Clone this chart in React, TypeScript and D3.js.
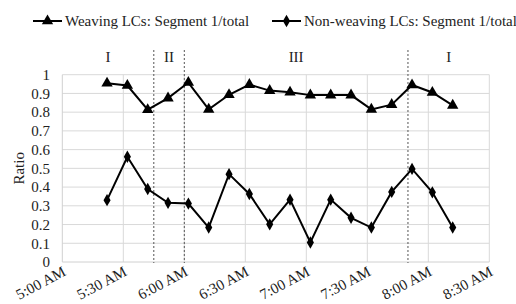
import React, { useEffect, useRef } from 'react';
import * as d3 from 'd3';

// sample times (10 min steps)
const times = ['5:22', '5:32', '5:42', '5:52', '6:02', '6:12', '6:22', '6:32', '6:42', '6:52', '7:02', '7:12', '7:22', '7:32', '7:42', '7:52', '8:02', '8:12'];
const weaving = [0.954, 0.942, 0.813, 0.875, 0.958, 0.815, 0.893, 0.947, 0.915, 0.906, 0.891, 0.891, 0.891, 0.815, 0.84, 0.945, 0.905, 0.836];
const nonWeaving = [0.33, 0.562, 0.39, 0.316, 0.312, 0.184, 0.469, 0.363, 0.201, 0.333, 0.104, 0.333, 0.236, 0.184, 0.374, 0.497, 0.372, 0.184];
const boundaries = ['5:45', '6:00', '7:50'];
const regionLabels = ['I', 'II', 'III', 'I'];
const yTicks = [0, 0.1, 0.2, 0.3, 0.4, 0.5, 0.6, 0.7, 0.8, 0.9, 1];

const toDate = (s: string) => {
  const [h, m] = s.split(':').map(Number);
  return new Date(2000, 0, 1, h, m);
};

export default function App() {
  const ref = useRef<SVGSVGElement>(null);

  useEffect(() => {
    const svg = d3.select(ref.current);
    svg.selectAll('*').remove();
    const fs = 15;

    const x = d3.scaleTime().domain([toDate('5:00'), toDate('8:30')]).range([62.3, 489.3]);
    const y = d3.scaleLinear().domain([0, 1]).range([262, 74.7]);

    // horizontal grid
    svg.append('g')
      .selectAll('line')
      .data(yTicks.slice(1))
      .enter()
      .append('line')
      .attr('x1', x.range()[0])
      .attr('x2', x.range()[1])
      .attr('y1', d => y(d))
      .attr('y2', d => y(d))
      .attr('stroke', '#d9d9d9')
      .attr('stroke-width', 1);

    const xTicks = d3.timeMinute.every(30)!.range(toDate('5:00'), toDate('8:31'));
    // vertical grid
    svg.append('g')
      .selectAll('line')
      .data(xTicks.slice(1))
      .enter()
      .append('line')
      .attr('x1', d => x(d))
      .attr('x2', d => x(d))
      .attr('y1', y(1))
      .attr('y2', y(0))
      .attr('stroke', '#d9d9d9')
      .attr('stroke-width', 1);

    // axes lines
    svg.append('line')
      .attr('x1', x.range()[0]).attr('x2', x.range()[1])
      .attr('y1', y(0)).attr('y2', y(0))
      .attr('stroke', '#d0d0d0').attr('stroke-width', 1);
    svg.append('line')
      .attr('x1', x.range()[0]).attr('x2', x.range()[0])
      .attr('y1', y(1)).attr('y2', y(0))
      .attr('stroke', '#d0d0d0').attr('stroke-width', 1);

    // y tick labels
    svg.append('g')
      .selectAll('text')
      .data(yTicks)
      .enter()
      .append('text')
      .attr('x', 50)
      .attr('y', d => y(d))
      .attr('dy', '0.35em')
      .attr('text-anchor', 'end')
      .attr('font-size', fs)
      .attr('fill', '#222')
      .text(d => String(d));

    svg.append('text')
      .attr('transform', 'translate(19,' + (y(0.5)) + ') rotate(-90)')
      .attr('text-anchor', 'middle')
      .attr('dy', '0.35em')
      .attr('font-size', fs)
      .attr('fill', '#222')
      .text('Ratio');

    // x tick labels
    const fmt = d3.timeFormat('%-I:%M %p');
    svg.append('g')
      .selectAll('text')
      .data(xTicks)
      .enter()
      .append('text')
      .attr('transform', d => 'translate(' + (x(d) + 2) + ',' + (y(0) + 8) + ') rotate(-28)')
      .attr('text-anchor', 'end')
      .attr('dy', '0.35em')
      .attr('font-size', fs)
      .attr('fill', '#222')
      .text(d => fmt(d));

    // region boundaries
    svg.append('g')
      .selectAll('line')
      .data(boundaries)
      .enter()
      .append('line')
      .attr('x1', d => x(toDate(d)))
      .attr('x2', d => x(toDate(d)))
      .attr('y1', 50)
      .attr('y2', y(0) + 1)
      .attr('stroke', '#555')
      .attr('stroke-width', 1)
      .attr('stroke-dasharray', '2,2');

    const edges = [toDate('5:00'), ...boundaries.map(toDate), toDate('8:30')];
    svg.append('g')
      .selectAll('text')
      .data(regionLabels)
      .enter()
      .append('text')
      .attr('x', (d, i) => (x(edges[i]) + x(edges[i + 1])) / 2)
      .attr('y', 57)
      .attr('dy', '0.35em')
      .attr('text-anchor', 'middle')
      .attr('font-size', fs)
      .attr('fill', '#222')
      .text(d => d);

    const tri = d3.symbol().type(d3.symbolTriangle).size(56);
    const dia = d3.symbol().type(d3.symbolDiamond).size(44);
    const line = d3.line<number>()
      .x((d, i) => x(toDate(times[i])))
      .y(d => y(d));

    const series = [
      { values: weaving, sym: tri },
      { values: nonWeaving, sym: dia }
    ];
    series.forEach(s => {
      svg.append('path')
        .attr('d', line(s.values))
        .attr('fill', 'none')
        .attr('stroke', '#000')
        .attr('stroke-width', 2);
      svg.append('g')
        .selectAll('path')
        .data(s.values)
        .enter()
        .append('path')
        .attr('d', s.sym()!)
        .attr('transform', (d, i) => 'translate(' + x(toDate(times[i])) + ',' + y(d) + ')')
        .attr('fill', '#000');
    });

    // legend
    const legend = [
      { label: 'Weaving LCs: Segment 1/total', sym: tri, x0: 33 },
      { label: 'Non-weaving LCs: Segment 1/total', sym: dia, x0: 272 }
    ];
    legend.forEach(l => {
      const g = svg.append('g').attr('transform', 'translate(' + l.x0 + ',21)');
      g.append('line').attr('x1', 0).attr('x2', 29).attr('stroke', '#000').attr('stroke-width', 2);
      g.append('path').attr('d', l.sym()!).attr('transform', 'translate(14.5,0)').attr('fill', '#000');
      g.append('text')
        .attr('x', 32)
        .attr('dy', '0.35em')
        .attr('font-size', fs)
        .attr('fill', '#222')
        .text(l.label);
    });
  }, []);

  return (
    <svg
      ref={ref}
      width={516}
      height={304}
      style={{ position: 'absolute', left: 0, top: 0, background: '#fff', fontFamily: "'Liberation Serif', 'DejaVu Serif', serif" }}
    />
  );
}
